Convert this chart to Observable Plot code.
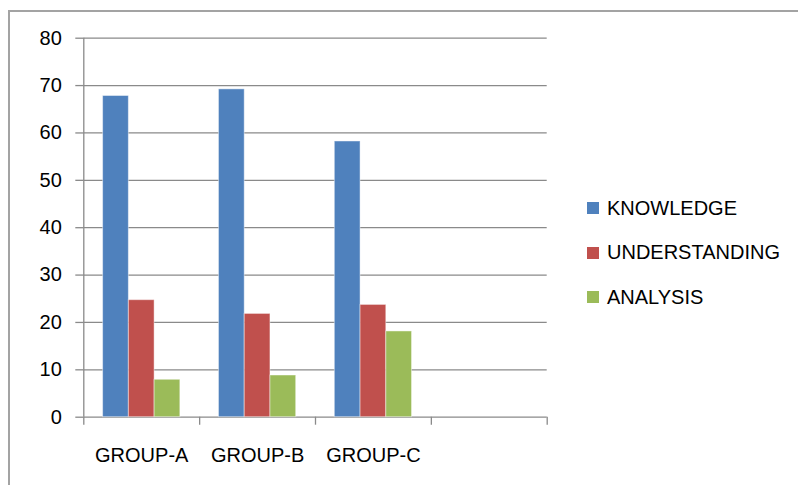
<!DOCTYPE html>
<html>
<head>
<meta charset="utf-8">
<script src="https://cdn.jsdelivr.net/npm/d3@7"></script>
<script src="https://cdn.jsdelivr.net/npm/@observablehq/plot@0.6"></script>
<style>
  html, body { margin: 0; padding: 0; background: #fff; }
  #wrap { position: relative; width: 798px; height: 485px; overflow: hidden; font-family: "Liberation Sans", Arial, sans-serif; }
  #border { position: absolute; left: 8px; top: 10px; width: 800px; height: 500px; border-left: 2px solid #a3a3a3; border-top: 2px solid #a3a3a3; box-sizing: border-box; }
  #chart { position: absolute; left: 0; top: 0; }
  #legend { position: absolute; left: 587px; top: 186px; }
  .row { display: flex; align-items: center; height: 44.5px; font-size: 20px; color: #000; }
  .sw { width: 12px; height: 12px; margin-right: 8px; }
</style>
</head>
<body>
<div id="wrap">
  <div id="border"></div>
  <div id="chart"></div>
  <div id="legend"></div>
</div>
<script>
// Category slots on the x axis (the fourth one is left empty)
const slots = ["GROUP-A", "GROUP-B", "GROUP-C", ""];
const groups = ["GROUP-A", "GROUP-B", "GROUP-C"];
const series = ["KNOWLEDGE", "UNDERSTANDING", "ANALYSIS"];

// Scores per group
const knowledge = [67.8, 69.2, 58.2];
const understanding = [24.7, 21.8, 23.7];
const analysis = [7.9, 8.8, 18.1];

const colors = ["#4F81BD", "#C0504D", "#9BBB59"];
const yTicks = [0, 10, 20, 30, 40, 50, 60, 70, 80];

// Clustered bars: gap between clusters is 150% of a bar width
const values = [knowledge, understanding, analysis];
const gap = 1.5;
const bw = 1 / (series.length + gap);
const rows = [];
groups.forEach((g, i) => {
  series.forEach((s, j) => {
    const x1 = i + bw * (gap / 2 + j);
    rows.push({group: g, series: s, value: values[j][i], x1, x2: x1 + bw});
  });
});

const axisGray = "#8a8a8a";

const chart = Plot.plot({
  width: 798,
  height: 485,
  marginLeft: 83.3,
  marginRight: 251.3,
  marginTop: 37.7,
  marginBottom: 68.3,
  style: {fontFamily: "'Liberation Sans', Arial, sans-serif", fontSize: "20px", color: "#000", background: "transparent", overflow: "visible"},
  x: {domain: [0, slots.length]},
  y: {domain: [0, 80]},
  color: {domain: series, range: colors},
  marks: [
    Plot.gridY(yTicks, {stroke: axisGray, strokeOpacity: 1, strokeWidth: 1.3}),
    Plot.rect(rows, {x1: "x1", x2: "x2", y1: 0, y2: "value", fill: "series", stroke: "#ffffff", strokeOpacity: 0.45, strokeWidth: 1}),
    Plot.ruleX([0], {stroke: axisGray, strokeWidth: 1.3}),
    Plot.axisY(yTicks, {tickSize: 8, tickPadding: 14, stroke: axisGray, strokeWidth: 1.3, label: null}),
    Plot.axisX(d3.range(slots.length + 1), {tickSize: 8, tickFormat: () => "", stroke: axisGray, strokeWidth: 1.3, label: null}),
    Plot.axisX(groups.map((g, i) => i + 0.5), {tickSize: 0, tickPadding: 31, tickFormat: d => slots[Math.floor(d)], label: null})
  ]
});
document.getElementById("chart").append(chart);

// Legend built from the chart's color scale
const color = chart.scale("color");
const legend = d3.select("#legend");
series.forEach(s => {
  const row = legend.append("div").attr("class", "row");
  row.append("div").attr("class", "sw").style("background", color.apply(s));
  row.append("span").text(s);
});
</script>
</body>
</html>
